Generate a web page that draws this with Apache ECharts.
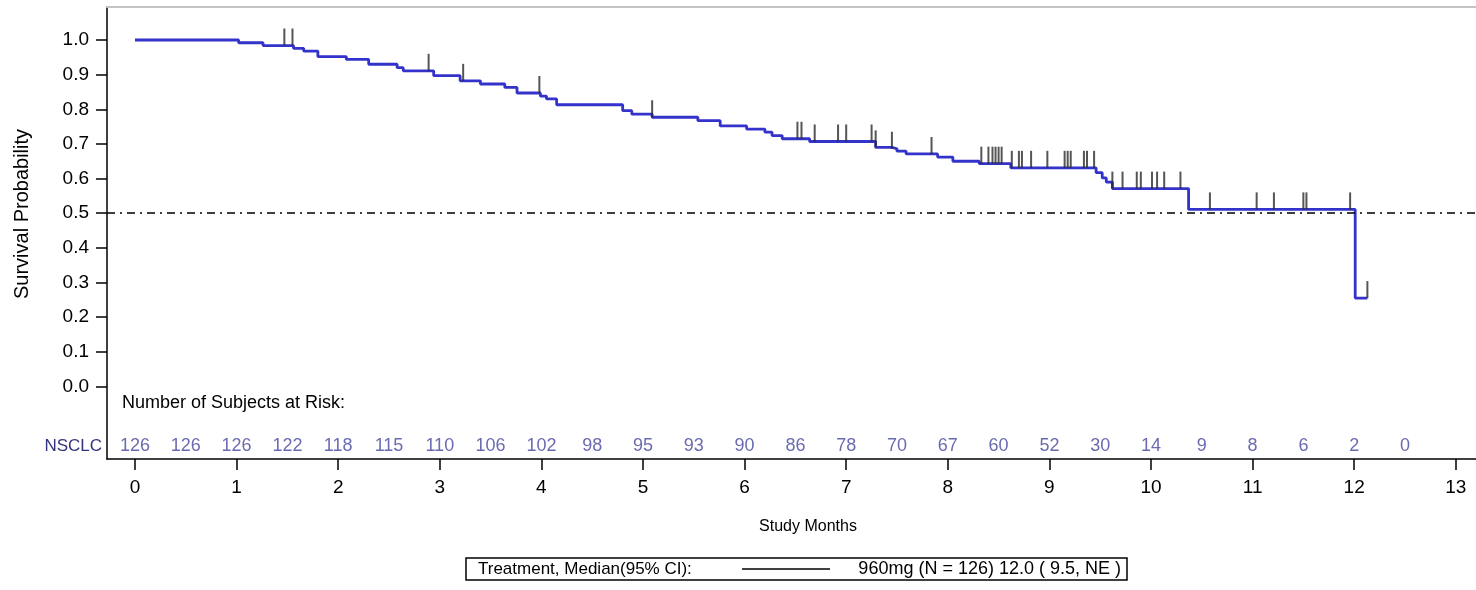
<!DOCTYPE html>
<html>
<head>
<meta charset="utf-8">
<script src="https://cdn.jsdelivr.net/npm/echarts@6/dist/echarts.min.js"></script>
<style>
  html, body { margin: 0; padding: 0; background: #fff; }
  #chart { width: 1476px; height: 590px; }
</style>
</head>
<body>
<div id="chart"></div>
<script>
// Kaplan-Meier estimate: time (months) of each step and survival after the step
const kmTimes = [0, 1.02, 1.26, 1.56, 1.66, 1.80, 2.08, 2.30, 2.58, 2.64, 2.94, 3.20, 3.40, 3.64, 3.76,
  3.99, 4.05, 4.15, 4.80, 4.89, 5.09, 5.54, 5.76, 6.02, 6.20, 6.27, 6.37, 6.64, 7.29, 7.45, 7.50,
  7.59, 7.90, 8.05, 8.31, 8.62, 9.46, 9.52, 9.56, 9.62, 10.37, 12.01, 12.13];
const kmSurv = [1.000, 0.992, 0.984, 0.976, 0.968, 0.952, 0.944, 0.930, 0.920, 0.911, 0.897, 0.882, 0.873, 0.863, 0.847,
  0.838, 0.830, 0.813, 0.796, 0.786, 0.777, 0.767, 0.752, 0.743, 0.734, 0.724, 0.715, 0.707, 0.690, 0.686, 0.679,
  0.671, 0.662, 0.650, 0.643, 0.631, 0.617, 0.602, 0.590, 0.571, 0.511, 0.255, 0.255];

// Censored subjects (months)
const censorTimes = [1.47, 1.55, 2.89, 3.23, 3.98, 5.09, 6.52, 6.56, 6.69, 6.92, 7.00, 7.25, 7.29, 7.45, 7.84,
  8.33, 8.40, 8.44, 8.47, 8.50, 8.53, 8.63, 8.70, 8.73, 8.82, 8.98, 9.15, 9.18, 9.21, 9.34, 9.37, 9.44,
  9.62, 9.72, 9.86, 9.90, 10.01, 10.06, 10.13, 10.29, 10.58, 11.04, 11.21, 11.50, 11.53, 11.96, 12.13];

// Number of subjects at risk
const atRiskTimes = [0, 0.5, 1, 1.5, 2, 2.5, 3, 3.5, 4, 4.5, 5, 5.5, 6, 6.5, 7, 7.5, 8, 8.5, 9, 9.5,
  10, 10.5, 11, 11.5, 12, 12.5];
const atRiskCounts = [126, 126, 126, 122, 118, 115, 110, 106, 102, 98, 95, 93, 90, 86, 78, 70, 67, 60, 52, 30,
  14, 9, 8, 6, 2, 0];

// Axis ticks
const xTicks = [0, 1, 2, 3, 4, 5, 6, 7, 8, 9, 10, 11, 12, 13];
const yTicks = [0, 0.1, 0.2, 0.3, 0.4, 0.5, 0.6, 0.7, 0.8, 0.9, 1.0];
const medianLevel = 0.5;

// Text
const seriesName = 'NSCLC';
const riskTitle = 'Number of Subjects at Risk:';
const xTitle = 'Study Months';
const yTitle = 'Survival Probability';
const legendLead = 'Treatment, Median(95% CI):';
const legendEntry = '960mg (N = 126) 12.0 ( 9.5, NE )';

const FONT = "'Liberation Sans', Arial, sans-serif";
const CURVE = '#3333cc';
const RISK = '#45459c';

// Row (in y-axis units) where the at-risk counts sit, below the 0.0 tick
const RISK_ROW = -0.171;

function survivalAt(t) {
  let s = kmSurv[0];
  for (let i = 0; i < kmTimes.length; i++) {
    if (kmTimes[i] <= t) s = kmSurv[i];
  }
  return s;
}

const X_MIN = -0.2756, X_MAX = 13.199;
const Y_MIN = -0.2094, Y_MAX = 1.0952;

const chart = echarts.init(document.getElementById('chart'), null, { renderer: 'canvas' });

const option = {
  animation: false,
  backgroundColor: '#fff',
  grid: { left: 107, top: 7, width: 1369, height: 452, containLabel: false },
  xAxis: [
    {
      type: 'value', position: 'bottom', min: X_MIN, max: X_MAX,
      axisLine: { show: true, onZero: false, lineStyle: { color: '#000', width: 1.5 } },
      axisTick: { show: true, customValues: xTicks, length: 11, lineStyle: { color: '#000', width: 1.5 } },
      axisLabel: { customValues: xTicks, margin: 19, fontSize: 19, color: '#000', fontFamily: FONT },
      splitLine: { show: false }
    },
    {
      type: 'value', position: 'top', min: X_MIN, max: X_MAX,
      axisLine: { show: true, onZero: false, lineStyle: { color: '#c4c4c4', width: 2 } },
      axisTick: { show: false }, axisLabel: { show: false }, splitLine: { show: false }
    }
  ],
  yAxis: {
    type: 'value', min: Y_MIN, max: Y_MAX,
    axisLine: { show: true, onZero: false, lineStyle: { color: '#000', width: 1.5 } },
    axisTick: { show: true, customValues: yTicks, length: 11, lineStyle: { color: '#000', width: 1.5 } },
    axisLabel: {
      customValues: yTicks, margin: 18, fontSize: 19, color: '#000', fontFamily: FONT,
      formatter: v => v.toFixed(1)
    },
    splitLine: { show: false }
  },
  series: [
    {
      name: seriesName,
      type: 'line',
      step: 'end',
      showSymbol: false,
      data: kmTimes.map((t, i) => [t, kmSurv[i]]),
      lineStyle: { color: CURVE, width: 2.8 },
      z: 3,
      markLine: {
        silent: true,
        symbol: 'none',
        label: { show: false },
        lineStyle: { color: '#000', type: [8, 5, 2, 5], width: 1.5 },
        data: [{ yAxis: medianLevel }]
      }
    },
    {
      name: 'Censored',
      type: 'scatter',
      data: censorTimes.map(t => [t, survivalAt(t)]),
      symbol: 'rect',
      symbolSize: [2, 17],
      symbolOffset: [0, '-50%'],
      itemStyle: { color: '#2a2a2a' },
      z: 4
    },
    {
      name: 'At risk',
      type: 'scatter',
      data: atRiskTimes.map((t, i) => [t, RISK_ROW, atRiskCounts[i]]),
      symbolSize: 1,
      itemStyle: { color: 'rgba(0,0,0,0)' },
      label: {
        show: true, position: 'inside', formatter: p => String(p.value[2]),
        fontSize: 18, color: RISK, fontFamily: FONT
      },
      z: 5
    }
  ],
  graphic: [
    {
      type: 'text', x: 122, y: 403,
      style: { text: riskTitle, fontSize: 18, fill: '#000', fontFamily: FONT, textAlign: 'left', textVerticalAlign: 'middle' }
    },
    {
      type: 'text', x: 102, y: 446,
      style: { text: seriesName, fontSize: 17, fill: '#34347e', fontFamily: FONT, textAlign: 'right', textVerticalAlign: 'middle' }
    },
    {
      type: 'text', x: 808, y: 527,
      style: { text: xTitle, fontSize: 16, fill: '#000', fontFamily: FONT, textAlign: 'center', textVerticalAlign: 'middle' }
    },
    {
      type: 'text', x: 22, y: 214, rotation: Math.PI / 2,
      style: { text: yTitle, fontSize: 20, fill: '#000', fontFamily: FONT, textAlign: 'center', textVerticalAlign: 'middle' }
    },
    {
      type: 'group',
      children: [
        {
          type: 'rect', shape: { x: 466, y: 558, width: 661, height: 22 },
          style: { fill: '#fff', stroke: '#000', lineWidth: 1.5 }
        },
        {
          type: 'text', x: 478, y: 569,
          style: { text: legendLead, fontSize: 17, fill: '#000', fontFamily: FONT, textAlign: 'left', textVerticalAlign: 'middle' }
        },
        {
          type: 'line', shape: { x1: 742, y1: 569, x2: 830, y2: 569 },
          style: { stroke: '#000', lineWidth: 1.5 }
        },
        {
          type: 'text', x: 1121, y: 569,
          style: { text: legendEntry, fontSize: 18, fill: '#000', fontFamily: FONT, textAlign: 'right', textVerticalAlign: 'middle' }
        }
      ]
    }
  ]
};

chart.setOption(option);
</script>
</body>
</html>
